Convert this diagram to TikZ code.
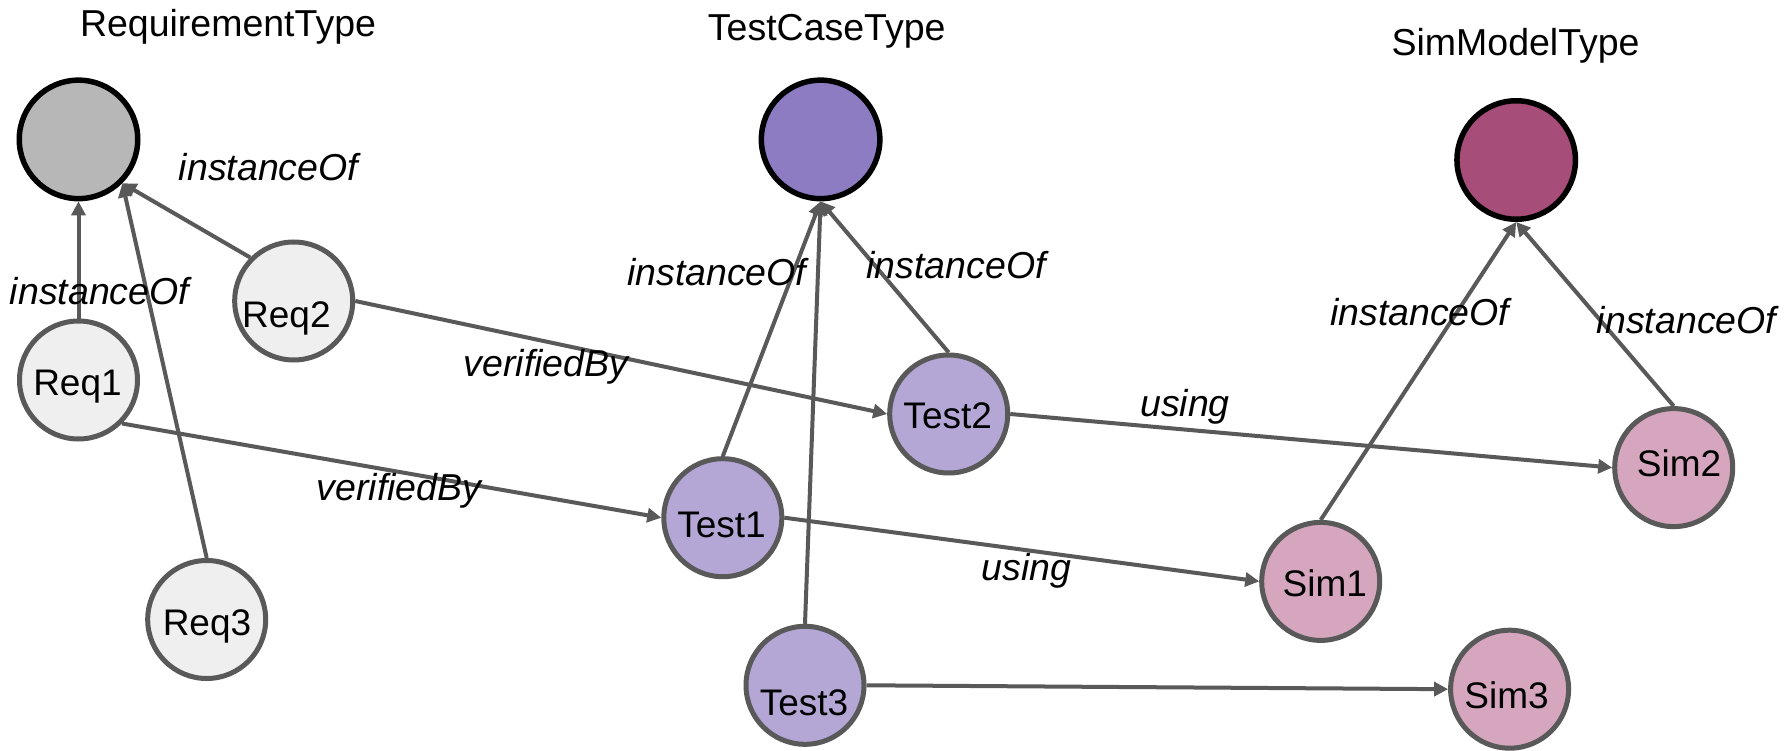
\documentclass[tikz,border=0pt]{standalone}
\usepackage{fontspec}
\setmainfont{Liberation Sans}
\usetikzlibrary{arrows.meta}
\definecolor{edgegray}{HTML}{595959}
\definecolor{reqtype}{HTML}{B7B7B7}
\definecolor{testtype}{HTML}{8E7CC3}
\definecolor{simtype}{HTML}{A64D79}
\definecolor{reqinst}{HTML}{EFEFEF}
\definecolor{testinst}{HTML}{B4A7D6}
\definecolor{siminst}{HTML}{D5A6BD}

\begin{document}
\begin{tikzpicture}[x=1pt,y=-1pt,
  typenode/.style={circle, draw=black, line width=5.5pt, minimum size=118.5pt, inner sep=0pt},
  instnode/.style={circle, draw=edgegray, line width=5pt, minimum size=118pt, inner sep=0pt},
  nodetext/.style={font=\fontsize{37}{41}\selectfont, inner sep=0pt, text height=26.5pt, text depth=0pt},
  typetitle/.style={font=\fontsize{37.5}{42}\selectfont, inner sep=0pt, anchor=base},
  rel/.style={font=\fontsize{37.5}{42}\selectfont\itshape, inner sep=0pt, anchor=base},
  link/.style={draw=edgegray, line width=4pt, -{Triangle[length=14pt,width=14pt]}}
]
\fill[white] (0,0) rectangle (1790,751);
\useasboundingbox (0,0) rectangle (1790,751);

% type nodes
\node[typenode, fill=reqtype]  (RT)  at (78.5,139.4) {};
\node[typenode, fill=testtype] (TCT) at (820.6,139.4) {};
\node[typenode, fill=simtype]  (SMT) at (1516.2,160) {};
\node[typetitle] (RTt)  at (228,37)    {RequirementType};
\node[typetitle] (TCTt) at (826.7,40.5) {TestCaseType};
\node[typetitle] (SMTt) at (1515.6,55.8) {SimModelType};

% instance nodes
\node[instnode, fill=reqinst]  (Req1)  at (78.5,380) {};
\node[instnode, fill=reqinst]  (Req2)  at (293.7,301) {};
\node[instnode, fill=reqinst]  (Req3)  at (206.7,619.5) {};
\node[instnode, fill=testinst] (Test1) at (722.8,517.7) {};
\node[instnode, fill=testinst] (Test2) at (948.7,414) {};
\node[instnode, fill=testinst] (Test3) at (805,685.3) {};
\node[instnode, fill=siminst]  (Sim1)  at (1320.7,581.4) {};
\node[instnode, fill=siminst]  (Sim2)  at (1673.7,467.6) {};
\node[instnode, fill=siminst]  (Sim3)  at (1509.6,689.2) {};

% instance names
\node[nodetext] (Req1t)  at (77.5,382.7)  {Req1};
\node[nodetext] (Req2t)  at (286.4,314)   {Req2};
\node[nodetext] (Req3t)  at (207,622.7)   {Req3};
\node[nodetext] (Test1t) at (721.5,524.5) {Test1};
\node[nodetext] (Test2t) at (947.7,415)   {Test2};
\node[nodetext] (Test3t) at (804,702)     {Test3};
\node[nodetext] (Sim1t)  at (1324.8,583.5) {Sim1};
\node[nodetext] (Sim2t)  at (1679,463)    {Sim2};
\node[nodetext] (Sim3t)  at (1506.6,695.6) {Sim3};

% instanceOf links
\draw[link] (Req1.north) -- (RT.south);
\draw[link] (Req2.135) -- (RT.-45);
\draw[link] (Req3.north) -- (RT.-45);
\draw[link] (Test1.north) -- (TCT.south);
\draw[link] (Test2.north) -- (TCT.south);
\draw[link] (Test3.north) -- (TCT.south);
\draw[link] (Sim1.north) -- (SMT.south);
\draw[link] (Sim2.north) -- (SMT.south);

% verifiedBy links
\draw[link] (Req1.-45) -- (Test1.west);
\draw[link] (Req2.east) -- (Test2.west);

% using links
\draw[link] (Test1.east) -- (Sim1.west);
\draw[link] (Test2.east) -- (Sim2.west);
\draw[link] (Test3.east) -- (Sim3.west);

% relation labels
\node[rel] (l1)  at (268.5,181)  {instanceOf};
\node[rel] (l2)  at (99.5,304)   {instanceOf};
\node[rel] (l3)  at (716.7,285)  {instanceOf};
\node[rel] (l4)  at (956,278)    {instanceOf};
\node[rel] (l5)  at (1419.7,325) {instanceOf};
\node[rel] (l6)  at (1686.6,333) {instanceOf};
\node[rel] (l7)  at (546,376.7)  {verifiedBy};
\node[rel] (l8)  at (399,500.5)  {verifiedBy};
\node[rel] (l9)  at (1185,416.7) {using};
\node[rel] (l10) at (1026.7,580) {using};
\end{tikzpicture}
\end{document}
